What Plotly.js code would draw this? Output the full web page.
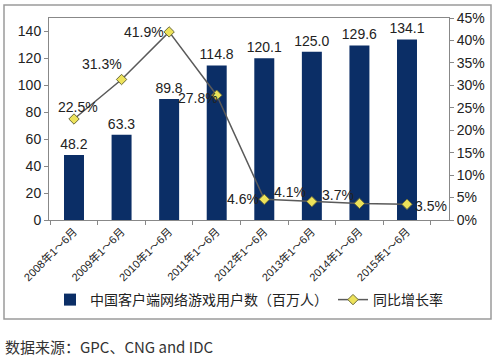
<!DOCTYPE html>
<html>
<head>
<meta charset="utf-8">
<script src="https://cdn.plot.ly/plotly-3.0.1.min.js"></script>
<style>
html,body{margin:0;padding:0;background:#fff;}
#chart{width:499px;height:359px;}
</style>
</head>
<body>
<div id="chart"></div>
<script>
var categories = ["2008年1～6月","2009年1～6月","2010年1～6月","2011年1～6月","2012年1～6月","2013年1～6月","2014年1～6月","2015年1～6月"];
var users = [48.2, 63.3, 89.8, 114.8, 120.1, 125.0, 129.6, 134.1];
var growth = [22.5, 31.3, 41.9, 27.8, 4.6, 4.1, 3.7, 3.5];
var userLabels = ["48.2","63.3","89.8","114.8","120.1","125.0","129.6","134.1"];
var growthLabels = ["22.5%","31.3%","41.9%","27.8%","4.6%","4.1%","3.7%","3.5%"];
var seriesNames = ["中国客户端网络游戏用户数（百万人）", "同比增长率"];
var sourceText = "数据来源：GPC、CNG and IDC";

var FONT = "'Liberation Sans', Arial, 'Noto Sans CJK SC', sans-serif";
var CJK = "'Noto Sans CJK SC', 'Liberation Sans', sans-serif";
// label offsets (pixels) of the growth labels relative to their points
var labelDX = [4, -20, -25, -19, -21, -22, -21, 24];
var labelDY = [12, 16, 0, -3, 0, 10, 8, -2];

var W = 499, H = 359, ML = 49, MR = 50, MT = 18, MB = 139;
var PW = W - ML - MR, PH = H - MT - MB;
function px(x){ return (x - ML) / PW; }
function py(y){ return (H - MB - y) / PH; }

var traces = [
  {
    type: "bar",
    x: categories,
    y: users,
    name: seriesNames[0],
    marker: {color: "#0B2E66"},
    width: 0.42,
    text: userLabels,
    textposition: "outside",
    constraintext: "none",
    textfont: {family: FONT, size: 14, color: "#222"},
    cliponaxis: false,
    hoverinfo: "x+y"
  },
  {
    type: "scatter",
    mode: "lines+markers",
    x: categories,
    y: growth,
    yaxis: "y2",
    name: seriesNames[1],
    line: {color: "#5a5a5a", width: 1.5},
    marker: {symbol: "diamond", size: 8, color: "#EDE25A", line: {color: "#6b6b3a", width: 1}},
    cliponaxis: false
  }
];

var annotations = growth.map(function(v, i){
  return {
    xref: "x", yref: "y2", x: categories[i], y: v,
    text: growthLabels[i], showarrow: false,
    xanchor: "center", yanchor: "middle",
    xshift: labelDX[i], yshift: labelDY[i],
    font: {family: FONT, size: 14, color: "#222"}
  };
});
annotations.push({xref: "paper", yref: "paper", x: px(3), y: py(346), xanchor: "left", yanchor: "middle",
  text: sourceText, showarrow: false, font: {family: CJK, size: 15, color: "#333"}});

var layout = {
  width: W, height: H,
  margin: {l: ML, r: MR, t: MT, b: MB},
  paper_bgcolor: "#fff",
  plot_bgcolor: "#fff",
  font: {family: FONT, size: 13, color: "#222"},
  showlegend: true,
  bargap: 0.58,
  xaxis: {
    type: "category",
    tickangle: -45,
    tickson: "boundaries",
    ticks: "outside",
    ticklen: 4,
    tickcolor: "#888",
    showline: true,
    linecolor: "#888",
    mirror: true,
    showgrid: false,
    tickfont: {family: FONT, size: 11, color: "#222"}
  },
  yaxis: {
    range: [0, 150],
    dtick: 20,
    tick0: 0,
    ticks: "outside",
    ticklen: 4,
    tickcolor: "#888",
    showline: true,
    linecolor: "#888",
    showgrid: false,
    zeroline: false,
    tickfont: {family: FONT, size: 14, color: "#222"}
  },
  yaxis2: {
    overlaying: "y",
    side: "right",
    range: [0, 45],
    dtick: 5,
    ticksuffix: "%",
    ticks: "outside",
    ticklen: 4,
    tickcolor: "#888",
    showline: true,
    linecolor: "#888",
    showgrid: false,
    zeroline: false,
    tickfont: {family: FONT, size: 14, color: "#222"}
  },
  legend: {
    orientation: "h",
    x: 0.5, xanchor: "center",
    y: py(300), yanchor: "middle",
    font: {family: CJK, size: 14, color: "#222"},
    itemwidth: 30,
    traceorder: "normal"
  },
  shapes: [
    {type: "rect", xref: "paper", yref: "paper",
     x0: px(4), x1: px(491), y0: py(5), y1: py(319),
     line: {color: "#9a9a9a", width: 1.5}, fillcolor: "rgba(0,0,0,0)", layer: "below"}
  ],
  annotations: annotations
};

Plotly.newPlot("chart", traces, layout, {displayModeBar: false, staticPlot: true});
</script>
</body>
</html>
